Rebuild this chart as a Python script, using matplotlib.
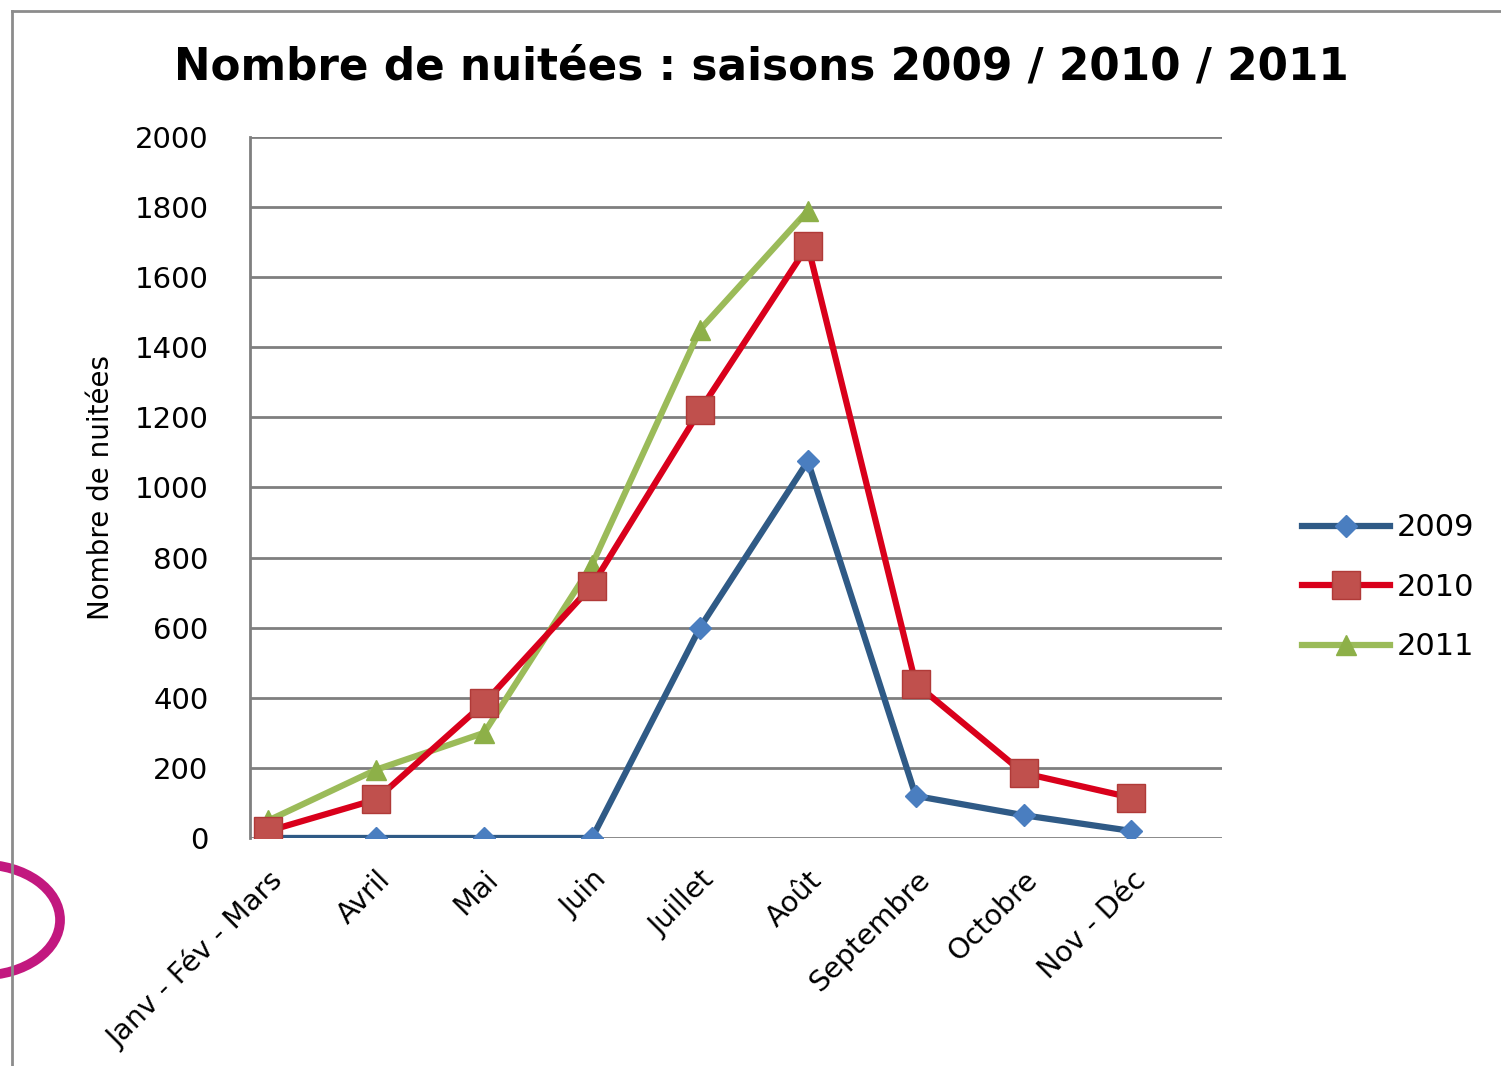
import matplotlib.pyplot as plt
import numpy as np
from matplotlib.patches import Circle

mois = ['Janv - Fév - Mars', 'Avril', 'Mai', 'Juin', 'Juillet', 'Août',
        'Septembre', 'Octobre', 'Nov - Déc']
nuitees_2009 = [0, 0, 0, 0, 600, 1075, 120, 65, 20]
nuitees_2010 = [20, 110, 385, 720, 1220, 1690, 440, 185, 115]
nuitees_2011 = [50, 195, 300, 780, 1450, 1790]   # saison 2011 : jusqu'à août

fig = plt.figure(figsize=(15.01, 10.66), dpi=100)
ax = fig.add_axes([0.1666, 0.2139, 0.6476, 0.6576])

x = np.arange(len(mois))
ax.plot(x, nuitees_2009, color='#2F5A86', lw=4.5, marker='D', ms=11,
        mfc='#4A7EC0', mec='#4A7EC0', label='2009', zorder=3)
ax.plot(x, nuitees_2010, color='#D9001B', lw=4.5, marker='s', ms=20,
        mfc='#C0504D', mec='#B03A38', label='2010', zorder=4)
ax.plot(x[:len(nuitees_2011)], nuitees_2011, color='#9BBB59', lw=4.5, marker='^', ms=15,
        mfc='#8DB048', mec='#8DB048', label='2011', zorder=2)

ax.set_xlim(-0.17, 8.84)
ax.set_ylim(0, 2000)
ax.set_yticks(range(0, 2001, 200))
ax.yaxis.grid(True, color='#7F7F7F', lw=2)
ax.set_axisbelow(True)
for s in ['top', 'right', 'bottom']:
    ax.spines[s].set_visible(False)
ax.spines['left'].set_color('#7F7F7F')
ax.spines['left'].set_linewidth(2)
ax.tick_params(axis='y', length=0, pad=30, labelsize=21)
ax.tick_params(axis='x', length=0, pad=20, labelsize=20.5)
ax.set_xticks(x)
ax.set_xticklabels(mois, rotation=45, ha='right', rotation_mode='anchor')

ax.set_ylabel('Nombre de nuitées', fontsize=20, labelpad=14)
fig.text(0.507, 0.937, 'Nombre de nuitées : saisons 2009 / 2010 / 2011',
         ha='center', va='center', fontsize=31.5, fontweight='bold')

leg = fig.legend(loc='center left', bbox_to_anchor=(0.849, 0.449), frameon=False,
                 fontsize=22, handlelength=2.9, handletextpad=0.2, labelspacing=1.0)

# cadre de la capture
fig.add_artist(plt.Line2D([0.008, 0.008], [0.0, 0.99], color='#8C8C8C', lw=2,
                          transform=fig.transFigure))
fig.add_artist(plt.Line2D([0.008, 1.0], [0.99, 0.99], color='#8C8C8C', lw=2,
                          transform=fig.transFigure))
fig.add_artist(Circle((-0.012, 0.137), 0.052, transform=fig.transFigure, fill=False,
                      ec='#C2187F', lw=7))

fig.savefig('out.png', dpi=100)
